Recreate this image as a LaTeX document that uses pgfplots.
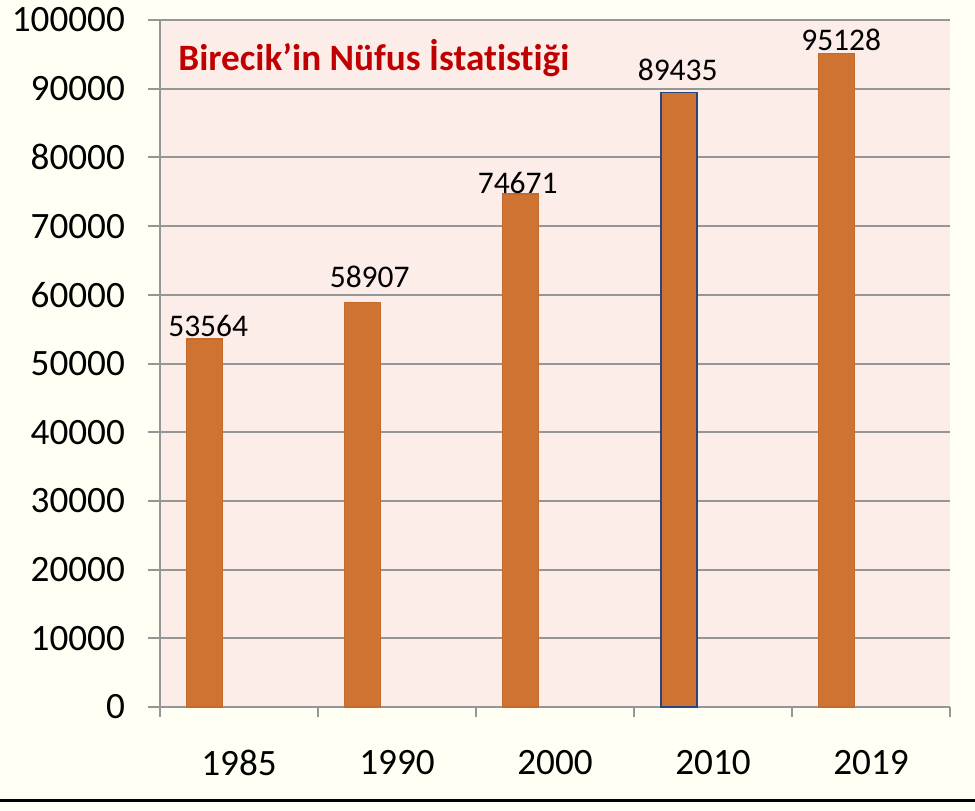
\documentclass[border=0pt]{standalone}
\usepackage{pgfplots}
\pgfplotsset{compat=1.18}
\usepackage{fontspec}
\setmainfont{Carlito}[Ligatures=NoCommon]
\definecolor{cream}{RGB}{255,255,243}
\definecolor{plotpink}{RGB}{253,237,233}
\definecolor{gridgray}{RGB}{150,150,150}
\definecolor{barfill}{RGB}{207,115,50}
\definecolor{baredge}{RGB}{196,106,44}
\definecolor{blueedge}{RGB}{40,70,125}
\definecolor{titlered}{RGB}{192,0,0}
\begin{document}
\begin{tikzpicture}[x=1pt,y=1pt]
\fill[cream] (-80,-51.5) rectangle (407.5,353.5);
\draw[line width=1.5pt, black] (-80,-46.5) -- (407.5,-46.5);
\begin{axis}[
  at={(0,0)}, anchor=south west,
  width=395pt, height=343.5pt, scale only axis,
  xmin=0, xmax=5, ymin=0, ymax=100000, enlargelimits=false,
  axis background/.style={fill=plotpink},
  axis x line*=bottom, axis y line*=left,
  axis line style={draw=gridgray, line width=1pt},
  ymajorgrids, grid style={draw=gridgray, line width=1pt},
  ytick={0,10000,20000,30000,40000,50000,60000,70000,80000,90000,100000},
  yticklabels={0,10000,20000,30000,40000,50000,60000,70000,80000,90000,100000},
  xtick={0.5,1.5,2.5,3.5,4.5}, xticklabels={1985,1990,2000,2010,2019},
  minor xtick={0,1,2,3,4,5},
  tick align=outside, major tick length=6pt, minor tick length=5pt,
  tick style={draw=gridgray, line width=1pt},
  major x tick style={draw=none},
  ticklabel style={font=\fontsize{18.6}{20}\selectfont, text=black},
  xticklabel style={yshift=-12pt},
  yticklabel style={xshift=-8pt},
  scaled y ticks=false,
  ybar, bar width=18pt, bar shift=0pt,
  point meta=explicit symbolic,
  nodes near coords,
  every node near coord/.append style={font=\fontsize{15.75}{17}\selectfont, text=black, inner sep=1pt},
  clip=false,
]
\addplot[fill=barfill, draw=baredge, line width=0.6pt,
  every node near coord/.append style={xshift=1.75pt}] coordinates {(0.283,53564) [53564]};
\addplot[fill=barfill, draw=baredge, line width=0.6pt,
  every node near coord/.append style={xshift=3.5pt, yshift=6pt}] coordinates {(1.283,58907) [58907]};
\addplot[fill=barfill, draw=baredge, line width=0.6pt,
  every node near coord/.append style={xshift=-1.5pt, yshift=-1pt}] coordinates {(2.283,74671) [74671]};
\addplot[fill=barfill, draw=blueedge, line width=0.8pt,
  every node near coord/.append style={xshift=-0.5pt, yshift=4.5pt}] coordinates {(3.283,89435) [89435]};
\addplot[fill=barfill, draw=baredge, line width=0.6pt,
  every node near coord/.append style={xshift=2.25pt}] coordinates {(4.283,95128) [95128]};
\node[anchor=west, inner sep=0pt, font=\bfseries\fontsize{18.6}{20}\selectfont, text=titlered] at (rel axis cs:0.0228,0.945) {Birecik’in Nüfus İstatistiği};
\end{axis}
\pgfresetboundingbox
\path[use as bounding box] (-80,-51.5) rectangle (407.5,353.5);
\end{tikzpicture}
\end{document}
